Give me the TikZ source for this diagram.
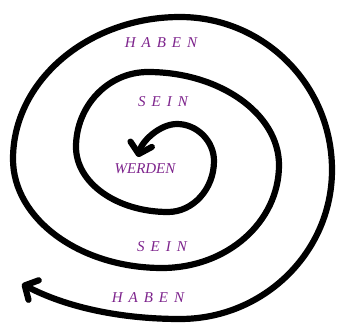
\documentclass[tikz,border=0pt]{standalone}
\usepackage{fontspec}
\setmainfont{Liberation Serif}
\usetikzlibrary{arrows.meta}
\definecolor{wordpurple}{RGB}{125,35,140}
\begin{document}
\begin{tikzpicture}[x=1pt,y=1pt,
  spiral/.style={line width=6.2pt, line cap=round, line join=round},
  barb/.tip={Straight Barb[length=10pt,width=22pt,round]},
  word/.style={text=wordpurple, font=\fontsize{15}{15}\selectfont\itshape,
    execute at begin node={\spaceskip=6pt\relax}, inner sep=0pt}]
\useasboundingbox (0,0) rectangle (338,325);
\coordinate (p0) at (22,41);
\coordinate (p1) at (180,6);
\coordinate (p2) at (332,155);
\coordinate (p3) at (180,308);
\coordinate (p4) at (13,166);
\coordinate (p5) at (162,57);
\coordinate (p6) at (279,160);
\coordinate (p7) at (148,253);
\coordinate (p8) at (76,178);
\coordinate (p9) at (168,113);
\coordinate (p10) at (214,164);
\coordinate (p11) at (177,201);
\coordinate (p12) at (138,168);
\draw[spiral, barb-barb] (p0)
  .. controls (66,18) and (120,6) .. (p1)
  .. controls (264,6) and (332,73) .. (p2)
  .. controls (332,240) and (264,308) .. (p3)
  .. controls (88,308) and (13,244) .. (p4)
  .. controls (13,106) and (80,57) .. (p5)
  .. controls (227,57) and (279,103) .. (p6)
  .. controls (279,211) and (220,253) .. (p7)
  .. controls (108,253) and (76,219) .. (p8)
  .. controls (76,142) and (117,113) .. (p9)
  .. controls (193,113) and (214,136) .. (p10)
  .. controls (214,184) and (197,201) .. (p11)
  .. controls (160,201) and (142,184) .. (p12);
\node[word] (haben1) at (161,282) {H A B E N};
\node[word] (sein1) at (163,223) {S E I N};
\node[word] (werden) at (145,156) {WERDEN};
\node[word] (sein2) at (162,78) {S E I N};
\node[word] (haben2) at (148,27) {H A B E N};
\end{tikzpicture}
\end{document}
